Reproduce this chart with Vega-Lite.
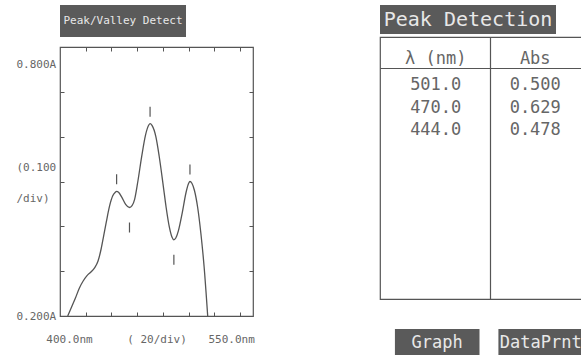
{
  "$schema": "https://vega.github.io/schema/vega-lite/v6.json",
  "background": "white",
  "padding": {"left": 10, "top": 5, "right": 0, "bottom": 0},
  "config": {
    "font": "DejaVu Sans Mono",
    "view": {"stroke": null},
    "axis": {"labelColor": "#666", "tickColor": "#555", "labelFont": "DejaVu Sans Mono", "grid": false}
  },
  "datasets": {
    "spectrum": [
      {"wl": 406, "abs": 0.2}, {"wl": 409, "abs": 0.22}, {"wl": 412, "abs": 0.24}, {"wl": 415, "abs": 0.262},
      {"wl": 418, "abs": 0.278}, {"wl": 421, "abs": 0.29}, {"wl": 424, "abs": 0.298}, {"wl": 427, "abs": 0.308},
      {"wl": 429.5, "abs": 0.322}, {"wl": 432, "abs": 0.35}, {"wl": 434, "abs": 0.38}, {"wl": 436, "abs": 0.41},
      {"wl": 438.5, "abs": 0.445}, {"wl": 441, "abs": 0.468}, {"wl": 443, "abs": 0.476}, {"wl": 444, "abs": 0.478},
      {"wl": 445.5, "abs": 0.476}, {"wl": 448, "abs": 0.465}, {"wl": 451, "abs": 0.449}, {"wl": 454, "abs": 0.442},
      {"wl": 456, "abs": 0.446}, {"wl": 458, "abs": 0.46}, {"wl": 460.5, "abs": 0.5}, {"wl": 463.5, "abs": 0.556},
      {"wl": 466.5, "abs": 0.604}, {"wl": 469, "abs": 0.626}, {"wl": 470, "abs": 0.629}, {"wl": 471.5, "abs": 0.625},
      {"wl": 474.5, "abs": 0.6}, {"wl": 477, "abs": 0.558}, {"wl": 480, "abs": 0.496}, {"wl": 482.5, "abs": 0.442},
      {"wl": 485, "abs": 0.398}, {"wl": 487, "abs": 0.376}, {"wl": 488.5, "abs": 0.37}, {"wl": 490, "abs": 0.374},
      {"wl": 492, "abs": 0.39}, {"wl": 495, "abs": 0.43}, {"wl": 498, "abs": 0.476}, {"wl": 500, "abs": 0.496},
      {"wl": 501, "abs": 0.5}, {"wl": 502.5, "abs": 0.496}, {"wl": 504.5, "abs": 0.48}, {"wl": 507, "abs": 0.442},
      {"wl": 509.5, "abs": 0.384}, {"wl": 512, "abs": 0.31}, {"wl": 514.8, "abs": 0.2}
    ],
    "extrema": [
      {"wl": 444, "abs": 0.478, "type": "peak"},
      {"wl": 470, "abs": 0.629, "type": "peak"},
      {"wl": 501, "abs": 0.5, "type": "peak"},
      {"wl": 454, "abs": 0.442, "type": "valley"},
      {"wl": 488.5, "abs": 0.37, "type": "valley"}
    ],
    "table": [
      {"n": 1, "col": "λ (nm)", "val": "501.0"},
      {"n": 2, "col": "λ (nm)", "val": "470.0"},
      {"n": 3, "col": "λ (nm)", "val": "444.0"},
      {"n": 1, "col": "Abs", "val": "0.500"},
      {"n": 2, "col": "Abs", "val": "0.629"},
      {"n": 3, "col": "Abs", "val": "0.478"}
    ]
  },
  "spacing": 124,
  "hconcat": [
    {
      "spacing": 8,
      "vconcat": [
        {
          "width": 126, "height": 32,
          "view": {"fill": "#5a5a5a", "stroke": null},
          "data": {"values": [{"t": "Peak/Valley Detect"}]},
          "mark": {"type": "text", "font": "DejaVu Sans Mono", "fontSize": 11, "color": "#e8e8e8", "align": "center", "baseline": "middle"},
          "encoding": {"text": {"field": "t"}}
        },
        {
          "width": 193, "height": 269,
          "view": {"stroke": "#555", "strokeWidth": 1.2},
          "layer": [
            {
              "data": {"name": "spectrum"},
              "mark": {"type": "line", "color": "#555", "strokeWidth": 1.3, "interpolate": "monotone"},
              "encoding": {
                "x": {"field": "wl", "type": "quantitative", "title": null,
                  "scale": {"domain": [400, 550], "nice": false, "zero": false},
                  "axis": {"orient": "bottom", "values": [407, 420, 440, 460, 475, 480, 500, 520, 533, 540],
                    "labelExpr": "datum.value == 407 ? '400.0nm' : datum.value == 475 ? '( 20/div)' : datum.value == 533 ? '550.0nm' : ''",
                    "tickSize": -4, "tickOpacity": {"condition": {"test": "datum.value % 20 != 0", "value": 0}, "value": 1},
                    "labelPadding": 21, "labelFontSize": 11, "labelFlush": false, "labelOverlap": false,
                    "domain": false, "labelAlign": "center", "labelBaseline": "top"}},
                "y": {"field": "abs", "type": "quantitative", "title": null,
                  "scale": {"domain": [0.2, 0.8], "nice": false, "zero": false},
                  "axis": {"orient": "left", "values": [0.2, 0.3, 0.4, 0.5, 0.532, 0.6, 0.7, 0.762],
                    "labelExpr": "datum.value == 0.762 ? '0.800A' : datum.value == 0.2 ? '0.200A' : datum.value == 0.532 ? ['(0.100', '/div)'] : ''",
                    "tickSize": -4, "tickOpacity": {"condition": {"test": "datum.value == 0.762 || datum.value == 0.532", "value": 0}, "value": 1},
                    "labelPadding": 48, "labelAlign": "left", "labelBaseline": "middle", "labelFontSize": 11, "labelLineHeight": 31,
                    "labelFlush": false, "labelOverlap": false, "domain": false, "minExtent": 49, "maxExtent": 49}}
              }
            },
            {
              "data": {"name": "extrema"},
              "transform": [{"filter": "datum.type == 'peak'"}],
              "mark": {"type": "tick", "orient": "vertical", "size": 10, "thickness": 1.2, "color": "#555", "opacity": 1, "yOffset": -12},
              "encoding": {
                "x": {"field": "wl", "type": "quantitative", "title": null,
                  "scale": {"domain": [400, 550], "nice": false, "zero": false},
                  "axis": {"orient": "top", "values": [420, 440, 460, 480, 500, 520, 540], "labels": false, "tickSize": -4, "domain": false, "minExtent": 0, "maxExtent": 0}},
                "y": {"field": "abs", "type": "quantitative", "title": null,
                  "scale": {"domain": [0.2, 0.8], "nice": false, "zero": false},
                  "axis": {"orient": "right", "values": [0.3, 0.4, 0.5, 0.6, 0.7], "labels": false, "tickSize": -4, "domain": false, "minExtent": 0, "maxExtent": 0}}
              }
            },
            {
              "data": {"name": "extrema"},
              "transform": [{"filter": "datum.type == 'valley'"}],
              "mark": {"type": "tick", "orient": "vertical", "size": 10, "thickness": 1.2, "color": "#555", "opacity": 1, "yOffset": 20},
              "encoding": {
                "x": {"field": "wl", "type": "quantitative", "title": null, "scale": {"domain": [400, 550], "nice": false, "zero": false}, "axis": null},
                "y": {"field": "abs", "type": "quantitative", "title": null, "scale": {"domain": [0.2, 0.8], "nice": false, "zero": false}, "axis": null}
              }
            }
          ],
          "resolve": {"axis": {"x": "independent", "y": "independent"}}
        }
      ]
    },
    {
      "spacing": 29,
      "vconcat": [
        {
          "spacing": 2,
          "vconcat": [
            {
              "width": 176, "height": 29,
              "view": {"fill": "#5a5a5a", "stroke": null},
              "data": {"values": [{"t": "Peak Detection"}]},
              "mark": {"type": "text", "font": "DejaVu Sans Mono", "fontSize": 20, "color": "#e8e8e8", "align": "center", "baseline": "middle"},
              "encoding": {"text": {"field": "t"}}
            },
            {
              "width": 203, "height": 262,
              "view": {"stroke": "#555", "strokeWidth": 1.2, "strokeDash": [203, 262, 465, 1]},
              "data": {"name": "table"},
              "layer": [
                {
                  "transform": [{"filter": "datum.col == 'λ (nm)'"}],
                  "mark": {"type": "text", "fontSize": 17, "color": "#666", "align": "center", "baseline": "middle"},
                  "encoding": {
                    "x": {"field": "col", "type": "nominal", "title": null,
                      "scale": {"type": "band", "domain": ["λ (nm)", "Abs"], "paddingInner": 0.1, "paddingOuter": 0.07, "align": 0.786},
                      "axis": {"orient": "top", "offset": -31, "ticks": false, "tickSize": 0, "domain": true, "domainColor": "#555", "domainWidth": 1.2,
                        "labelFontSize": 17, "labelPadding": 1, "labelAngle": 0, "bandPosition": 0.5, "labelColor": "#666"}},
                    "y": {"field": "n", "type": "quantitative", "title": null,
                      "scale": {"domain": [-1.144, 10.5], "reverse": true, "nice": false, "zero": false}, "axis": null},
                    "text": {"field": "val"}
                  }
                },
                {
                  "transform": [{"filter": "datum.col == 'Abs'"}],
                  "mark": {"type": "text", "fontSize": 17, "color": "#666", "align": "center", "baseline": "middle"},
                  "encoding": {
                    "x": {"field": "col", "type": "nominal", "title": null,
                      "scale": {"type": "band", "domain": ["λ (nm)", "Abs"], "paddingInner": 0.1, "paddingOuter": 0.07, "align": 0.786},
                      "axis": {"orient": "bottom", "values": ["Abs"], "bandPosition": 0, "grid": true, "gridColor": "#555", "gridWidth": 1.2,
                        "labels": false, "ticks": false, "domain": false}},
                    "y": {"field": "n", "type": "quantitative", "title": null,
                      "scale": {"domain": [-1.144, 10.5], "reverse": true, "nice": false, "zero": false}, "axis": null},
                    "text": {"field": "val"}
                  }
                }
              ],
              "resolve": {"axis": {"x": "independent"}}
            }
          ]
        },
        {
          "width": 203, "height": 27,
          "data": {"values": [{"b": "Graph"}, {"b": "DataPrnt"}]},
          "encoding": {
            "x": {"field": "b", "type": "nominal", "title": null, "sort": null,
              "scale": {"type": "band", "domain": ["Graph", "DataPrnt"], "paddingInner": 0.1827, "paddingOuter": 0.0721, "align": 1},
              "axis": null}
          },
          "layer": [
            {"mark": {"type": "bar", "color": "#5a5a5a"}},
            {"mark": {"type": "text", "fontSize": 17, "color": "#e8e8e8", "align": "center", "baseline": "middle"}, "encoding": {"text": {"field": "b"}}}
          ]
        }
      ]
    }
  ]
}
